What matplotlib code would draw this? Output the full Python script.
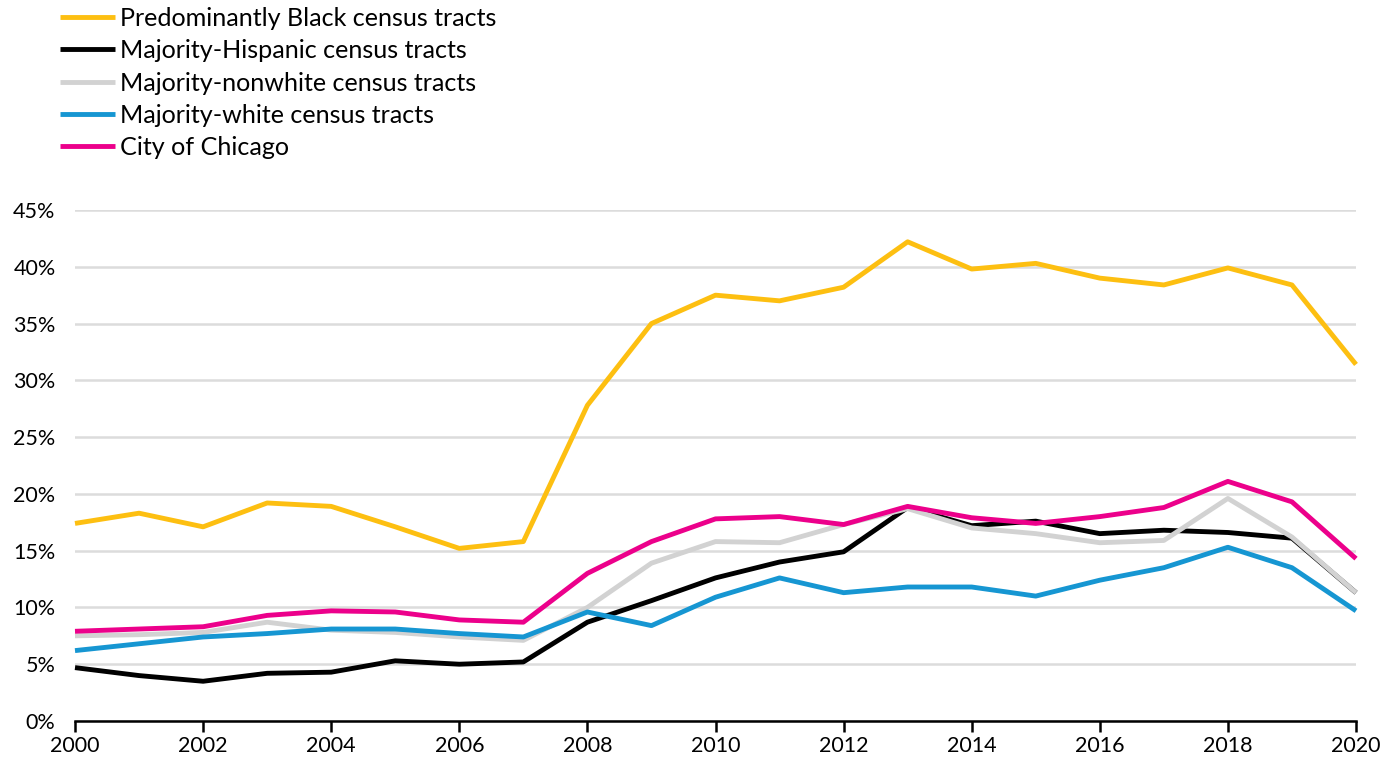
import matplotlib
matplotlib.use('Agg')
import matplotlib.pyplot as plt
from matplotlib.ticker import FuncFormatter

years = list(range(2000, 2021))

black_tracts = [17.4, 18.3, 17.1, 19.2, 18.9, 17.1, 15.2, 15.8, 27.8, 35.0, 37.5,
                37.0, 38.2, 42.2, 39.8, 40.3, 39.0, 38.4, 39.9, 38.4, 31.4]
hispanic_tracts = [4.7, 4.0, 3.5, 4.2, 4.3, 5.3, 5.0, 5.2, 8.7, 10.6, 12.6,
                   14.0, 14.9, 18.8, 17.2, 17.6, 16.5, 16.8, 16.6, 16.1, 11.3]
nonwhite_tracts = [7.5, 7.6, 7.8, 8.7, 8.0, 7.8, 7.4, 7.1, 10.0, 13.9, 15.8,
                   15.7, 17.3, 18.7, 17.0, 16.5, 15.7, 15.9, 19.6, 16.2, 11.3]
white_tracts = [6.2, 6.8, 7.4, 7.7, 8.1, 8.1, 7.7, 7.4, 9.6, 8.4, 10.9,
                12.6, 11.3, 11.8, 11.8, 11.0, 12.4, 13.5, 15.3, 13.5, 9.7]
chicago = [7.9, 8.1, 8.3, 9.3, 9.7, 9.6, 8.9, 8.7, 13.0, 15.8, 17.8,
           18.0, 17.3, 18.9, 17.9, 17.4, 18.0, 18.8, 21.1, 19.3, 14.3]

labels = ['Predominantly Black census tracts', 'Majority-Hispanic census tracts',
          'Majority-nonwhite census tracts', 'Majority-white census tracts',
          'City of Chicago']
series = [black_tracts, hispanic_tracts, nonwhite_tracts, white_tracts, chicago]
colors = ['#fdbf11', '#000000', '#d2d2d2', '#1696d2', '#ec008b']

plt.rcParams['font.family'] = ['Lato', 'DejaVu Sans']

fig = plt.figure(figsize=(13.97, 7.65), dpi=100)
ax = fig.add_axes([75/1397, 44/765, (1356-75)/1397, (721-210)/765])

for vals, lab, col in zip(series, labels, colors):
    ax.plot(years, vals, color=col, linewidth=3.5, label=lab, solid_capstyle='butt', clip_on=False)

ax.set_xlim(2000, 2020)
ax.set_ylim(0, 45)
ax.set_xticks(range(2000, 2021, 2))
ax.set_yticks(range(0, 46, 5))
ax.yaxis.set_major_formatter(FuncFormatter(lambda v, p: '%d%%' % v))
ax.grid(axis='y', color='#dcdcdc', linewidth=1.8)
ax.set_axisbelow(True)
for s in ['top', 'right', 'left']:
    ax.spines[s].set_visible(False)
ax.spines['bottom'].set_linewidth(1.8)
ax.spines['bottom'].set_zorder(5)
ax.tick_params(axis='y', length=0, labelsize=15.5, pad=14)
ax.tick_params(axis='x', length=8, width=1.8, labelsize=15.5, pad=3)

fig.legend(loc='upper left', bbox_to_anchor=(50/1397, 1.004), frameon=False, fontsize=18.1,
           handlelength=2.2, handletextpad=0.2, labelspacing=0.37, borderaxespad=0)

fig.savefig('out.png', dpi=100)
